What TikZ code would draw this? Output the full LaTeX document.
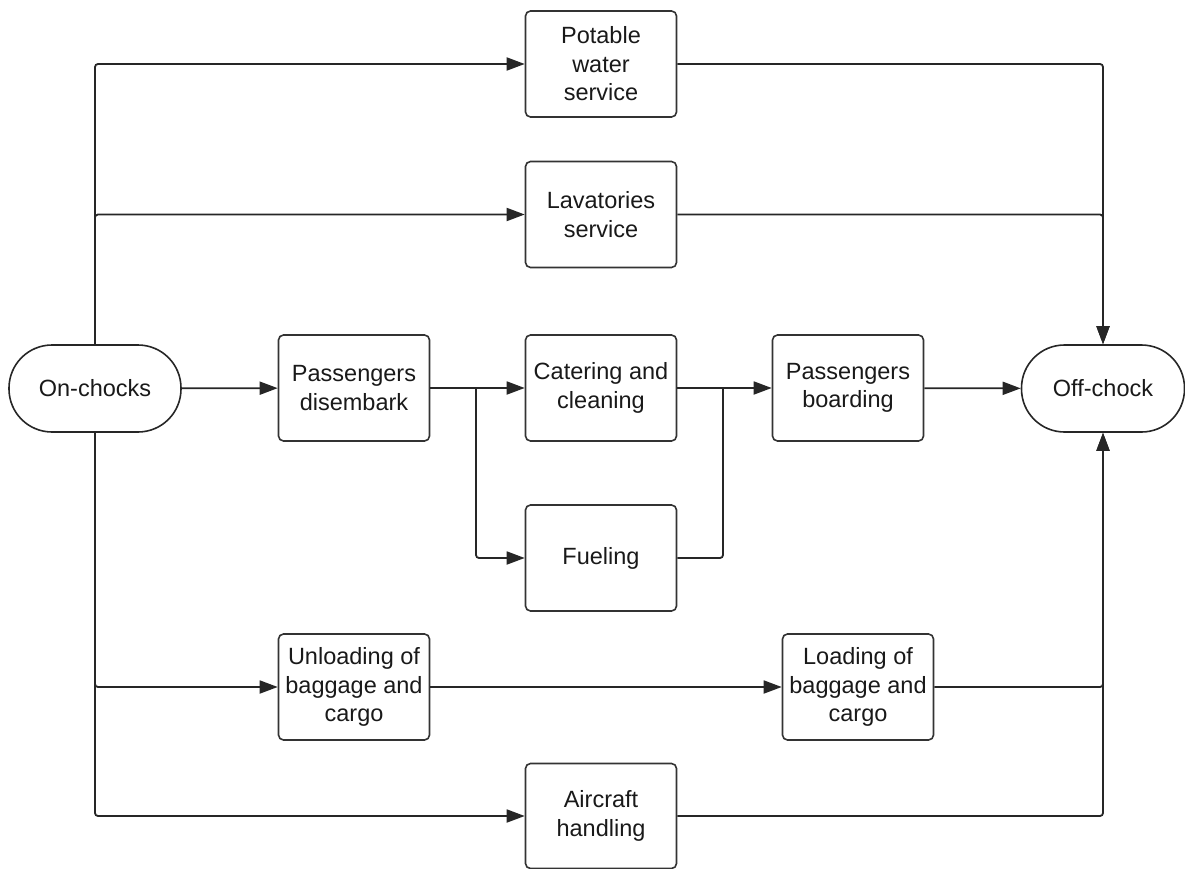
\documentclass[tikz,border=0pt]{standalone}
\usepackage{fontspec}
\setmainfont{Liberation Sans}
\usetikzlibrary{arrows.meta}
\begin{document}
\begin{tikzpicture}[x=1pt,y=-1pt,
  every node/.style={font=\fontsize{23.5}{28.5}\selectfont, text=black!90},
  box/.style={draw=black!80, line width=1.6pt, rounded corners=5pt, minimum width=151pt, minimum height=106pt, align=center, inner sep=2pt},
  term/.style={draw=black!85, line width=1.6pt, rounded corners=43pt, minimum width=172pt, minimum height=87pt, align=center},
  conn/.style={draw=black!85, line width=1.8pt, rounded corners=3pt},
  arr/.style={conn, -{Triangle[length=18pt,width=13pt]}}
]
\useasboundingbox (0,0) rectangle (1185,869);
\node[term] (on) at (95,388.5) {On-chocks};
\node[term, minimum width=163pt] (off) at (1103,388.5) {Off-chock};
\node[box] (pot) at (601,64) {Potable\\water\\service};
\node[box] (lav) at (601,214.5) {Lavatories\\service};
\node[box] (dis) at (354,388) {Passengers\\disembark};
\node[box] (cat) at (601,388) {Catering and\\cleaning};
\node[box] (boa) at (848,388) {Passengers\\boarding};
\node[box] (fue) at (601,558) {Fueling};
\node[box] (unl) at (354,687) {Unloading of\\baggage and\\cargo};
\node[box] (ld) at (858,687) {Loading of\\baggage and\\cargo};
\node[box, minimum height=105pt] (air) at (601,816) {Aircraft\\handling};
\coordinate (j1) at (476,388);
\coordinate (j2) at (723,388);
% left bus
\draw[arr] (on.north) |- (pot.west);
\draw[arr] (on.north) |- (lav.west);
\draw[arr] (on.south) |- (unl.west);
\draw[arr] (on.south) |- (air.west);
% right bus
\draw[arr] (pot.east) -| (off.north);
\draw[arr] (lav.east) -| (off.north);
\draw[arr] (air.east) -| (off.south);
\draw[arr] (ld.east) -| (off.south);
% middle
\draw[arr] (on) -- (dis);
\draw[arr] (dis) -- (cat);
\draw[arr] (j1) |- (fue.west);
\draw[arr] (cat) -- (boa);
\draw[conn] (fue.east) -| (j2);
\draw[arr] (boa) -- (off);
\draw[arr] (unl) -- (ld);
\end{tikzpicture}
\end{document}
